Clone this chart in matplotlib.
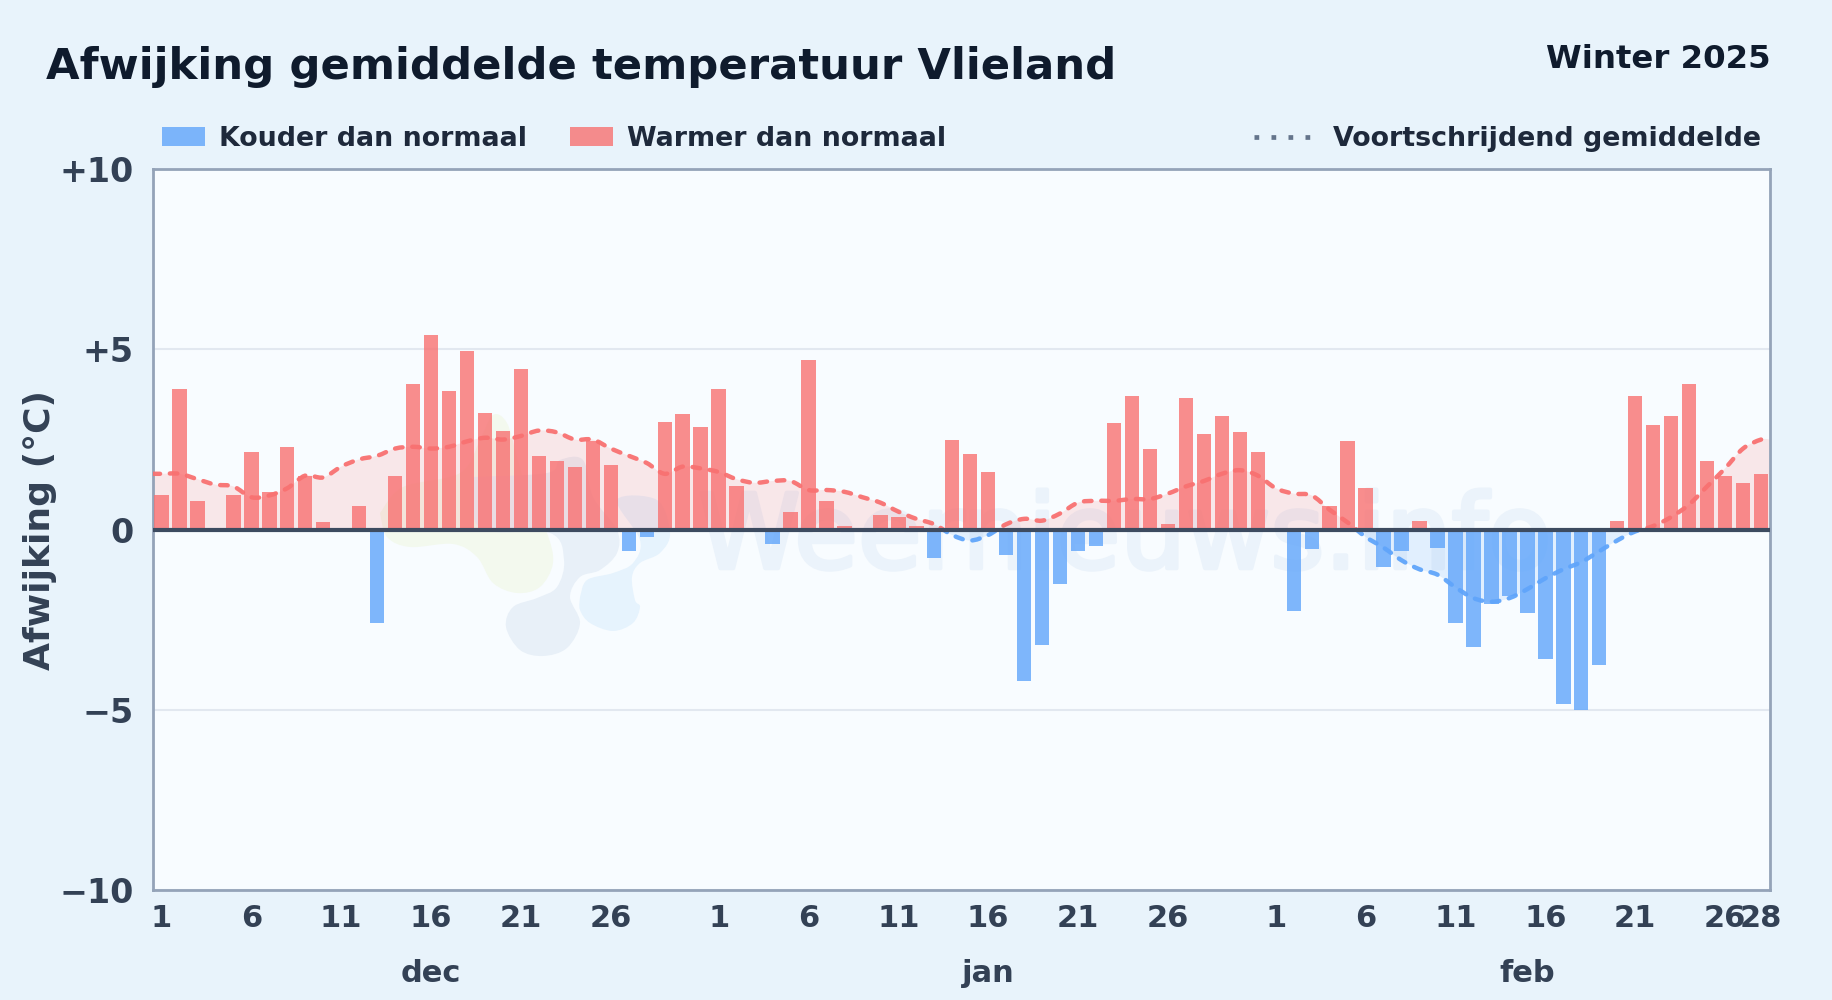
import numpy as np
import matplotlib
matplotlib.use("Agg")
import matplotlib.pyplot as plt
import matplotlib.patheffects as pe
from matplotlib.patches import Patch, PathPatch, Rectangle
from matplotlib.path import Path
from matplotlib.lines import Line2D
from matplotlib.transforms import Affine2D

dec_values = [0.95, 3.9, 0.8, 0, 0.95, 2.15, 1.05, 2.3, 1.5, 0.2, 0.05, 0.65, -2.6, 1.5, 4.05, 5.4,
              3.85, 4.95, 3.25, 2.75, 4.45, 2.05, 1.9, 1.75, 2.45, 1.8, -0.6, -0.2, 3.0, 3.2, 2.85]
jan_values = [3.9, 1.2, 0, -0.4, 0.5, 4.7, 0.8, 0.1, 0, 0.4, 0.35, 0.1, -0.8, 2.5, 2.1, 1.6,
              -0.7, -4.2, -3.2, -1.5, -0.6, -0.45, 2.95, 3.7, 2.25, 0.15, 3.65, 2.65, 3.15, 2.7, 2.15]
feb_values = [0, -2.25, -0.55, 0.65, 2.45, 1.15, -1.05, -0.6, 0.25, -0.5, -2.6, -3.25, -2.05, -1.85,
              -2.3, -3.6, -4.85, -5.0, -3.75, 0.25, 3.7, 2.9, 3.15, 4.05, 1.9, 1.5, 1.3, 1.55]

dec_mean = [1.55, 1.55, 1.4, 1.25, 1.2, 0.9, 0.95, 1.15, 1.5, 1.45, 1.75, 1.95, 2.05, 2.25, 2.3, 2.25,
            2.3, 2.45, 2.55, 2.5, 2.6, 2.75, 2.7, 2.5, 2.5, 2.25, 2.05, 1.85, 1.55, 1.75, 1.7]
jan_mean = [1.6, 1.4, 1.3, 1.35, 1.35, 1.1, 1.1, 1.05, 0.9, 0.75, 0.5, 0.3, 0.15, -0.15, -0.3, -0.15,
            0.15, 0.3, 0.25, 0.45, 0.75, 0.8, 0.8, 0.85, 0.85, 1.0, 1.2, 1.35, 1.55, 1.65, 1.5]
feb_mean = [1.15, 1.0, 0.95, 0.55, 0.2, -0.2, -0.5, -0.85, -1.1, -1.25, -1.6, -1.9, -2.0, -1.9,
            -1.65, -1.35, -1.1, -0.9, -0.6, -0.3, -0.05, 0.1, 0.35, 0.7, 1.2, 1.7, 2.25, 2.5]

month_names = ["dec", "jan", "feb"]
tick_days = [1, 6, 11, 16, 21, 26]

# outlines of the faint logo behind the bars, in picture pixels
logo_green = [(380, 513), (403, 487), (460, 473), (480, 440), (493, 415), (507, 423), (517, 457), (530, 500),
              (547, 533), (553, 563), (540, 587), (517, 593), (493, 583), (477, 557), (453, 544), (410, 547), (387, 537)]
logo_grey = [(473, 477), (547, 473), (560, 460), (583, 460), (593, 497), (617, 530), (617, 553), (600, 570), (580, 577),
             (570, 597), (580, 623), (567, 648), (543, 656), (520, 650), (506, 627), (513, 607), (537, 598), (557, 587),
             (564, 560), (550, 533), (480, 528)]
logo_light = [(580, 597), (587, 580), (613, 573), (633, 563), (640, 540), (617, 500), (657, 500), (670, 533), (660, 553),
              (640, 563), (632, 577), (635, 600), (640, 607), (633, 623), (613, 631), (590, 623), (580, 610)]

BG = "#e8f3fb"
AX_BG = "#f8fcff"
INK = "#334155"
DARK = "#0f1b2d"
BLUE = "#60a5fa"
RED = "#f87171"

plt.rcParams["font.family"] = "DejaVu Sans"
plt.rcParams["font.weight"] = "bold"
plt.rcParams["axes.labelweight"] = "bold"


def smooth_path(x, y, closed_to_zero=False):
    # catmull-rom through the points, as bezier segments
    x = np.asarray(x, float)
    y = np.asarray(y, float)
    verts = [(x[0], y[0])]
    codes = [Path.MOVETO]
    for i in range(len(x) - 1):
        p0 = max(i - 1, 0)
        p3 = min(i + 2, len(x) - 1)
        c1 = (x[i] + (x[i + 1] - x[p0]) / 6, y[i] + (y[i + 1] - y[p0]) / 6)
        c2 = (x[i + 1] - (x[p3] - x[i]) / 6, y[i + 1] - (y[p3] - y[i]) / 6)
        verts += [c1, c2, (x[i + 1], y[i + 1])]
        codes += [Path.CURVE4] * 3
    if closed_to_zero:
        verts += [(x[-1], 0), (x[0], 0), (x[0], y[0])]
        codes += [Path.LINETO, Path.LINETO, Path.CLOSEPOLY]
    return Path(verts, codes)


def blob(points, color):
    pts = np.array(points + points[:1], float)
    patch = PathPatch(smooth_path(pts[:, 0], pts[:, 1]), facecolor=color, edgecolor="none", zorder=1,
                      transform=Affine2D().scale(1, -1).translate(0, 1000))
    ax.add_patch(patch)
    patch.set_clip_path(ax.patch)


values = np.array(dec_values + jan_values + feb_values)
means = np.array(dec_mean + jan_mean + feb_mean)
days = np.arange(len(values))
lengths = [len(dec_values), len(jan_values), len(feb_values)]
starts = np.cumsum([0] + lengths[:-1])

fig = plt.figure(figsize=(18.32, 10), dpi=100, facecolor=BG)
ax = fig.add_axes([152.5 / 1832, 1 - 890 / 1000, (1770 - 152.5) / 1832, (890 - 169.3) / 1000], facecolor=AX_BG)
ax.set_xlim(-0.5, len(values) - 0.5)
ax.set_ylim(-10, 10)

# watermark
ax.text(53.6, -1.07, "Weernieuws.info", fontsize=74.5, color="#ebf3fb", ha="center", va="baseline",
        zorder=1, fontweight="normal",
        path_effects=[pe.withStroke(linewidth=3, foreground="#ebf3fb")])
blob(logo_green, "#f3f9ee")
blob(logo_grey, "#e8f0f8")
blob(logo_light, "#e6f3fd")

ax.grid(axis="y", color="#e2e8f0", linewidth=1.5)
ax.set_axisbelow(True)

ax.bar(days, np.where(values < 0, values, 0), width=0.8, color=BLUE, alpha=0.8, zorder=3)
ax.bar(days, np.where(values > 0, values, 0), width=0.8, color=RED, alpha=0.8, zorder=3)

# rolling mean runs on to both plot edges
line_x = np.r_[-0.5, days, days[-1] + 0.5]
line_y = np.r_[means[0], means, means[-1]]
above = Rectangle((-0.5, 0), len(values), 10, transform=ax.transData)
below = Rectangle((-0.5, -10), len(values), 10, transform=ax.transData)
for clip, col in [(above, RED), (below, BLUE)]:
    fill = PathPatch(smooth_path(line_x, line_y, True), facecolor=col, edgecolor="none", alpha=0.15, zorder=2)
    ax.add_patch(fill)
    fill.set_clip_path(clip)
    curve = PathPatch(smooth_path(line_x, line_y), facecolor="none", edgecolor=col, linewidth=3.2,
                      linestyle=(0, (1.7, 2.2)), capstyle="round", alpha=0.95, zorder=4)
    ax.add_patch(curve)
    curve.set_clip_path(clip)

ax.axhline(0, color="#3d4b60", linewidth=3, zorder=5)

for side in ax.spines.values():
    side.set_color("#94a3b8")
    side.set_linewidth(2)

ax.set_yticks([-10, -5, 0, 5, 10])
ax.set_yticklabels(["\u221210", "\u22125", "0", "+5", "+10"], fontsize=24, color=INK)
ax.set_ylabel("Afwijking (\u00b0C)", fontsize=26, color=INK, labelpad=2)

ticks, labels = [], []
for start, n in zip(starts, lengths):
    for d in tick_days:
        ticks.append(start + d - 1)
        labels.append(str(d))
ticks.append(starts[-1] + lengths[-1] - 1)
labels.append(str(lengths[-1]))
ax.set_xticks(ticks)
ax.set_xticklabels(labels, fontsize=22, color=INK)
ax.tick_params(length=0, pad=10)
ax.tick_params(axis="y", pad=13.5)

for name, start, n in zip(month_names, starts, lengths):
    ax.text(start + n // 2, -0.116, name, transform=ax.get_xaxis_transform(), ha="center", va="center",
            fontsize=22, color=INK)

fig.text(46 / 1832, 1 - 67 / 1000, "Afwijking gemiddelde temperatuur Vlieland", fontsize=31.25, color=DARK,
         ha="left", va="center")
fig.text(1771 / 1832, 1 - 60 / 1000, "Winter 2025", fontsize=23.3, color=DARK, ha="right", va="center")

handles = [Patch(facecolor=BLUE, alpha=0.8, label="Kouder dan normaal"),
           Patch(facecolor=RED, alpha=0.8, label="Warmer dan normaal")]
fig.legend(handles=handles, loc="center left", bbox_to_anchor=(162 / 1832, 1 - 139 / 1000), ncol=2, frameon=False,
           fontsize=19.4, labelcolor="#1e293b", handlelength=1.6, handleheight=0.7, columnspacing=1.6,
           handletextpad=0.52, borderpad=0, borderaxespad=0)
fig.legend(handles=[Line2D([], [], color="#64748b", linewidth=3.4, linestyle=(0, (1, 2.6)), dash_capstyle="butt",
                           label="Voortschrijdend gemiddelde")],
           loc="center right", bbox_to_anchor=(1761 / 1832, 1 - 139 / 1000), frameon=False, fontsize=19.4,
           labelcolor="#1e293b", handlelength=2.1, handletextpad=0.82, borderpad=0, borderaxespad=0)

fig.savefig("out.png", dpi=100, facecolor=BG)
